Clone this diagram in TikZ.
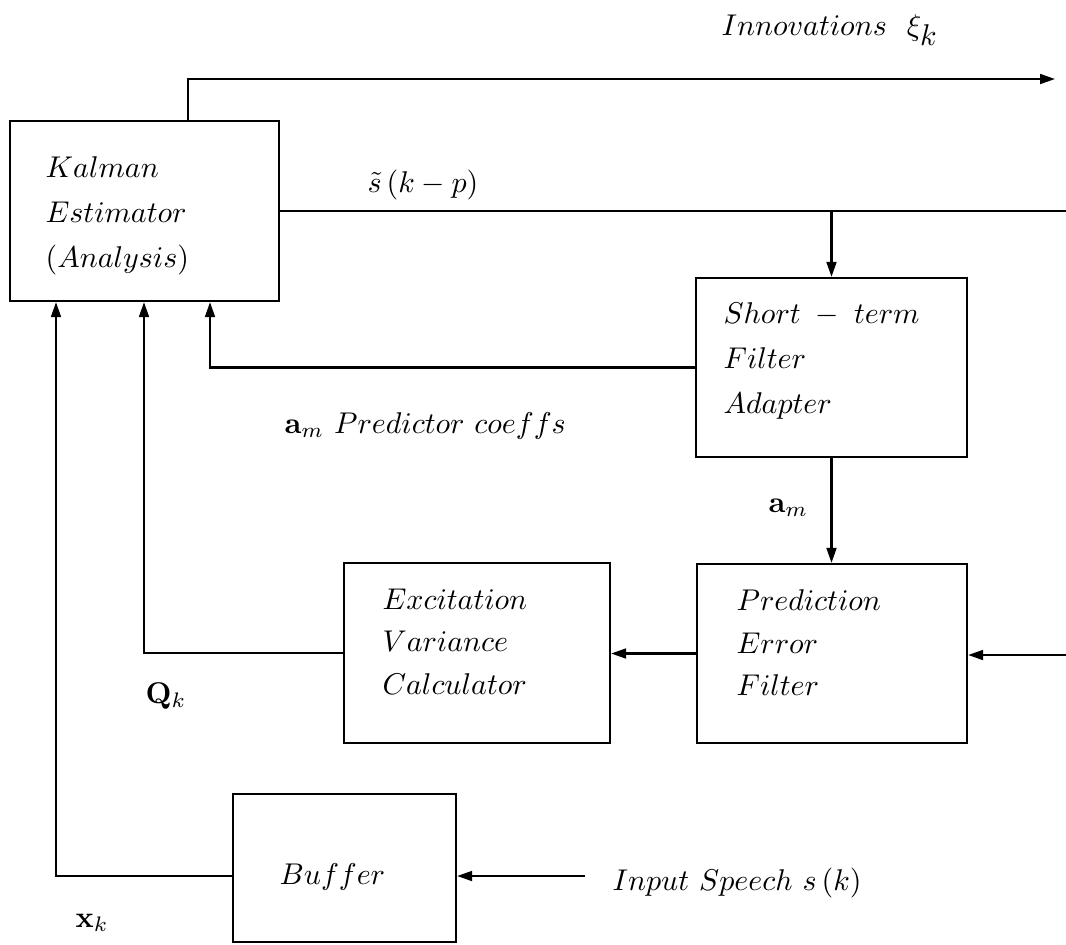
\documentclass[tikz,border=0pt]{standalone}
\usetikzlibrary{arrows.meta}
\begin{document}
\begin{tikzpicture}[x=0.33333pt,y=-0.33333pt,
  box/.style={draw, line width=0.75pt, inner sep=0pt},
  conn/.style={line width=0.7pt},
  arr/.style={line width=0.7pt, -{Triangle[length=5pt,width=3.3pt]}},
  txt/.style={inner sep=0pt, anchor=north west, align=left, font=\fontsize{10}{15}\selectfont},
  txtb/.style={inner sep=0pt, anchor=north west, align=left, font=\fontsize{10}{14.2}\selectfont},
  lab/.style={inner sep=0pt, anchor=base west}]
\useasboundingbox (0,0) rectangle (1066,944);

% boxes
\node[box, minimum width=89.67pt, minimum height=60pt] (K) at (144.5,211) {};
\node[box, minimum width=90.33pt, minimum height=59.67pt] (S) at (831.5,367.5) {};
\node[box, minimum width=90pt, minimum height=59.67pt] (P) at (832,653.5) {};
\node[box, minimum width=88.67pt, minimum height=60pt] (E) at (477,653) {};
\node[box, minimum width=74.33pt, minimum height=49.33pt] (B) at (344.5,868) {};

% box texts
\node[txt] (Kt) at (45,156) {$Kalman$\\$Estimator$\\$(Analysis)$};
\node[txt] (St) at (723,302) {$Short\;-\;term$\\$Filter$\\$Adapter$};
\node[txtb] (Pt) at (736,589) {$Prediction$\\$Error$\\$Filter$};
\node[txtb] (Et) at (382,588) {$Excitation$\\$Variance$\\$Calculator$};
\node[lab] (Bt) at (279,884) {$Buffer$};

% labels
\node[lab] (Linn) at (721,35) {$Innovations\ \ \xi_{\textstyle k}$};
\node[lab] (Ls) at (367,192) {$\tilde{s}\,(k-p)$};
\node[lab] (Lpc) at (284,433) {$\mathbf{a}_m\ Predictor\ coeffs$};
\node[lab] (Lam) at (768,512) {$\mathbf{a}_m$};
\node[lab] (Lq) at (145,703) {$\mathbf{Q}_k$};
\node[lab] (Lx) at (75,927) {$\mathbf{x}_k$};
\node[lab] (Lin) at (612,890) {$Input\ Speech\ s\,(k)$};

% helper coordinates
\coordinate (innovX) at (188,0);
\coordinate (innovEnd) at (1055,79);
\coordinate (sEnd) at (1066,211);
\coordinate (amX) at (210,0);
\coordinate (qX) at (144,0);
\coordinate (xX) at (56,0);
\coordinate (pIn) at (1066,655);
\coordinate (bLine) at (0,876);
\coordinate (inStart) at (585,876);

% connectors
\draw[arr] (K.north -| innovX) |- (innovEnd);
\draw[conn] (K.east) -- (sEnd);
\draw[arr] (S.north |- sEnd) -- (S.north);
\draw[arr] (S.west) -| (K.south -| amX);
\draw[arr] (S.south) -- (S.south |- P.north);
\draw[arr] (pIn) -- (P.east |- pIn);
\draw[arr] (P.west) -- (E.east |- P.west);
\draw[arr] (E.west) -| (K.south -| qX);
\draw[arr] (B.west |- bLine) -| (K.south -| xX);
\draw[arr] (inStart) -- (B.east |- inStart);
\end{tikzpicture}
\end{document}
